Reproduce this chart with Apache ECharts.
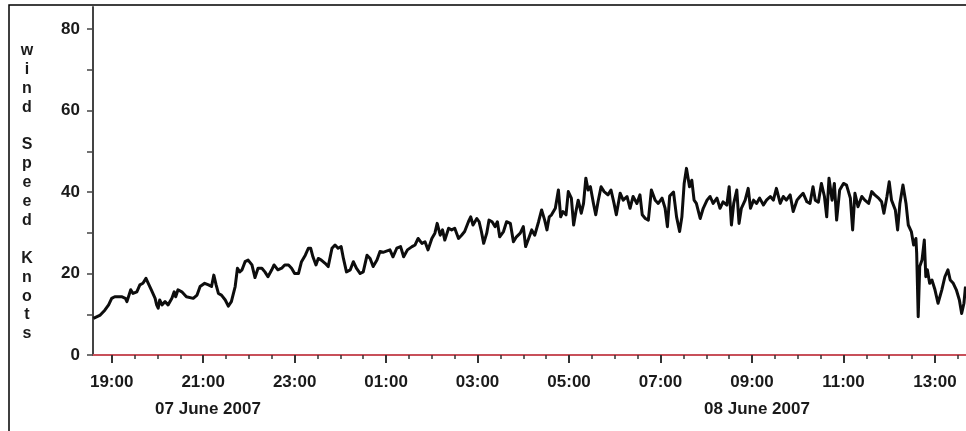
<!DOCTYPE html>
<html>
<head>
<meta charset="utf-8">
<script src="https://cdn.jsdelivr.net/npm/echarts@6/dist/echarts.min.js"></script>
<style>
html,body{margin:0;padding:0;background:#fff;}
#chart{width:966px;height:431px;}
</style>
</head>
<body>
<div id="chart"></div>
<script>
// minutes after 18:00 on 07 June 2007
const minutesSince1800 = [36,45,51,56,60,64,73,78,80,85,88,93,97,101,105,108,112,117,119,121,123,126,130,134,139,142,144,147,152,158,167,172,176,182,187,191,194,197,200,204,209,213,217,222,225,228,231,235,239,244,248,252,257,261,265,270,273,278,283,287,292,296,300,305,309,314,318,321,324,328,331,335,340,344,349,353,357,361,364,368,373,377,381,386,390,395,399,403,408,412,416,425,429,434,439,443,448,454,458,462,467,471,475,480,484,487,491,494,497,502,506,510,515,519,523,528,531,534,539,542,545,548,552,555,559,563,566,569,574,578,583,587,591,596,600,603,607,611,615,620,624,628,631,634,637,642,646,649,652,656,659,663,666,669,672,676,679,682,685,688,692,695,698,702,706,711,715,719,722,727,731,736,740,744,749,753,756,760,764,768,773,777,782,786,789,792,797,801,805,808,811,814,818,821,824,827,832,836,841,845,849,854,858,862,867,870,873,876,880,883,886,891,895,898,902,906,910,915,919,924,928,932,937,941,945,950,954,959,963,967,972,976,980,983,987,991,995,998,1001,1005,1008,1011,1015,1020,1024,1029,1032,1035,1039,1044,1048,1053,1057,1061,1066,1070,1073,1077,1080,1083,1088,1091,1094,1098,1102,1105,1109,1112,1115,1116,1118,1120,1123,1126,1128,1130,1133,1136,1140,1144,1149,1153,1157,1160,1164,1168,1172,1175,1178,1180];
const windSpeedKnots = [9.0,9.8,11.0,12.3,13.9,14.3,14.3,13.9,13.1,16.0,15.1,15.5,17.2,17.6,18.8,17.6,16.0,13.9,12.3,11.5,13.5,12.3,13.1,12.3,13.9,15.5,14.3,16.0,15.5,14.3,13.9,14.7,16.8,17.6,17.2,16.8,19.6,17.2,15.1,14.7,13.5,12.0,13.1,16.8,21.3,20.4,20.9,22.9,23.3,22.1,19.0,21.3,21.3,20.4,19.2,20.9,22.1,20.9,21.3,22.1,22.1,21.3,20.0,20.0,22.9,24.5,26.2,26.2,24.1,22.1,23.7,23.3,22.5,21.7,26.2,27.0,26.2,26.6,23.7,20.4,20.9,22.9,21.3,20.0,20.4,24.5,23.7,21.7,23.3,25.4,25.2,25.8,24.1,26.2,26.6,24.1,25.8,26.6,27.0,28.6,27.4,27.8,25.8,28.6,29.9,32.3,29.4,30.7,28.2,31.1,30.7,31.1,28.6,29.4,30.3,32.7,33.9,31.9,33.5,32.7,30.3,27.4,29.9,33.1,32.7,31.5,32.7,29.0,30.3,32.7,32.3,27.8,29.0,29.9,31.5,26.6,28.6,30.7,29.4,32.7,35.6,33.1,30.7,33.9,34.4,36.0,40.5,33.9,35.2,34.4,40.1,38.5,31.9,35.2,38.0,34.8,37.2,43.4,40.5,41.3,37.2,34.4,37.6,41.3,40.1,39.3,40.5,37.2,34.4,39.7,38.0,38.9,36.0,38.9,37.2,39.3,34.4,33.5,33.1,40.5,38.0,37.2,38.5,36.0,31.5,39.0,40.0,33.9,30.3,33.9,42.1,45.8,41.3,42.9,38.0,37.2,33.5,36.0,38.0,38.9,37.2,38.5,36.0,37.6,36.8,41.3,31.9,37.2,40.5,32.3,36.0,38.0,40.9,36.0,38.0,37.2,38.5,36.8,38.0,38.9,38.0,40.9,37.2,38.9,38.0,39.3,35.2,38.0,38.9,39.7,37.6,37.2,41.3,38.0,37.5,42.1,38.9,33.9,43.4,38.0,42.1,33.1,40.5,42.1,41.7,38.5,30.7,39.7,36.4,38.9,38.0,37.2,40.1,39.3,38.5,37.6,34.8,38.9,42.5,38.0,35.6,30.7,37.2,41.7,37.2,31.9,30.3,27.0,28.6,25.0,9.4,21.7,23.3,28.2,19.2,20.9,17.6,18.4,16.0,12.7,16.0,19.2,20.9,18.4,17.6,16.0,13.5,10.2,12.7,16.8];
const majorTickMinutes = [60,180,300,420,540,660,780,900,1020,1140];
const minorTickMinutes = [60,90,120,150,180,210,240,270,300,330,360,390,420,450,480,510,540,570,600,630,660,690,720,750,780,810,840,870,900,930,960,990,1020,1050,1080,1110,1140,1170];
const timeTickLabels = ['19:00','21:00','23:00','01:00','03:00','05:00','07:00','09:00','11:00','13:00'];
const yLabelValues = [0,20,40,60,80];
const yTickValues = [0,10,20,30,40,50,60,70,80];
const dateLabels = ['07 June 2007','08 June 2007'];
const yAxisTitle = 'wind Speed Knots';

const FONT = '"Liberation Sans", Arial, sans-serif';
const chart = echarts.init(document.getElementById('chart'), null, {renderer:'canvas'});
const seriesData = minutesSince1800.map((m,i)=>[m, windSpeedKnots[i]]);
const stacked = yAxisTitle.split('').map(c => c === ' ' ? '' : c).join('\n');

chart.setOption({
  animation:false,
  backgroundColor:'#fff',
  grid:{left:93, right:0, top:7, bottom:76, containLabel:false},
  xAxis:[
    {
      type:'value', min:35.5, max:1180.7, position:'bottom',
      axisLine:{show:true, lineStyle:{color:'#c8505a', width:2}},
      axisTick:{show:true, customValues:majorTickMinutes, length:8, lineStyle:{color:'#333', width:2}},
      axisLabel:{show:true, customValues:majorTickMinutes, margin:19,
        formatter:(v)=>{const i=majorTickMinutes.indexOf(Math.round(v)); return i>=0?timeTickLabels[i]:'';},
        color:'#1a1a1a', fontFamily:FONT, fontWeight:'bold', fontSize:17},
      splitLine:{show:false}
    },
    {
      type:'value', min:35.5, max:1180.7, position:'bottom',
      axisLine:{show:false},
      axisTick:{show:true, customValues:minorTickMinutes, length:4, lineStyle:{color:'#333', width:1.5}},
      axisLabel:{show:false},
      splitLine:{show:false}
    }
  ],
  yAxis:{
    type:'value', min:0, max:85.4,
    axisLine:{show:true, lineStyle:{color:'#444', width:2}},
    axisTick:{show:true, customValues:yTickValues, length:6, inside:false, lineStyle:{color:'#444', width:1.5}},
    axisLabel:{show:true, customValues:yLabelValues, margin:13, color:'#1a1a1a', fontFamily:FONT, fontWeight:'bold', fontSize:17},
    splitLine:{show:false}
  },
  series:[{
    type:'line', xAxisIndex:0, data:seriesData, showSymbol:false, symbol:'none',
    lineStyle:{color:'#0d0d0d', width:3, join:'round'}, z:3
  }],
  graphic:[
    {type:'rect', shape:{x:9, y:5, width:1200, height:1000}, style:{fill:'none', stroke:'#000', lineWidth:1.5}, z:-1, silent:true},
    {type:'text', x:27, y:41, style:{text:stacked, font:'bold 16px '+FONT, fill:'#1a1a1a', textAlign:'center', textVerticalAlign:'top', lineHeight:18.9}},
    {type:'text', x:208, y:409, style:{text:dateLabels[0], font:'bold 17px '+FONT, fill:'#1a1a1a', textAlign:'center', textVerticalAlign:'middle'}},
    {type:'text', x:757, y:409, style:{text:dateLabels[1], font:'bold 17px '+FONT, fill:'#1a1a1a', textAlign:'center', textVerticalAlign:'middle'}}
  ]
});
</script>
</body>
</html>
